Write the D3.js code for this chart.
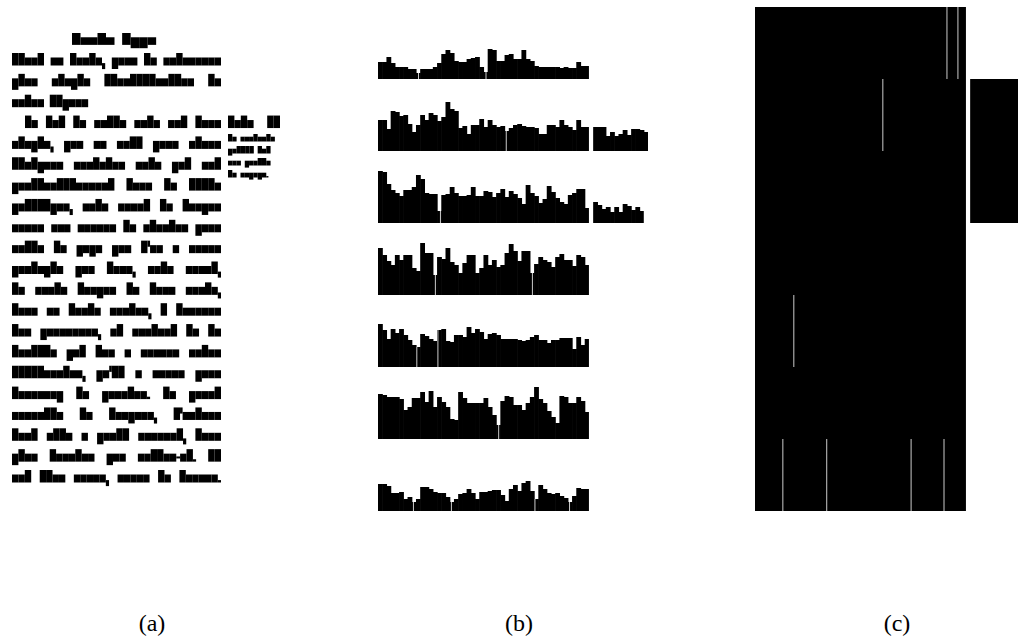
<!DOCTYPE html>
<html>
<head>
<meta charset="utf-8">
<script src="https://cdn.jsdelivr.net/npm/d3@7"></script>
<style>body{margin:0;background:#fff}</style>
</head>
<body>
<svg id="fig"></svg>
<script>
// (a) the page: one string per printed line, drawn as letter boxes
var titleText = "Texte Type";
var bodyLines = [
  "Ainsi un texte, pour le retrouver",
  "plus simple identification de",
  "votre figure",
  "Le but de cette note est donc",
  "simple, que ce soit pour mieux",
  "désigner certains mots qui ont",
  "particulièrement dans la Bible",
  "politique, mais aussi la langue",
  "comme une source de mémoire pour",
  "celle du pays que l'on a connu",
  "partagée par tous, mais aussi,",
  "la seule langue de leur monde,",
  "dans un texte ancien, à travers",
  "les personnes, et surtout de la",
  "famille qui les a connus entre",
  "différentes, qu'il a connu pour",
  "beaucoup de paroles. Un grand",
  "ensemble de langues, d'autres",
  "dont elle a parlé souvent, dans",
  "plus fermées que celles-ci. Il",
  "est bien connu, comme de France."
];
var indentedLines = [3];
var raggedLines = [2];
var marginTitle = "Note 12";
var marginLines = ["Le contexte", "publié ici", "une partie", "le voyage."];

// (b) projection profile of each block, one height per bin
var profiles = [
  [17,17,22,16,12,12,12,10,10,6,10,10,10,12,16,25,29,26,18,17,17,20,21,22,12,7,30,29,18,18,24,25,20,20,29,20,18,13,12,12,12,12,12,11,12,11,11,17,13,13],
  [31,31,22,40,39,35,36,27,19,26,36,31,38,36,30,34,49,42,40,23,25,17,26,26,32,24,31,26,24,25,20,23,26,27,25,24,24,23,17,17,26,26,24,31,26,24,21,31,24,24],
  [52,51,39,33,30,27,33,33,36,48,44,30,29,29,12,28,29,36,30,27,27,28,36,27,27,32,31,26,30,34,26,32,29,25,19,38,30,27,20,24,37,31,25,21,19,28,30,34,34,15],
  [47,40,34,30,40,35,40,40,27,24,52,42,42,20,38,36,47,33,30,22,32,40,40,22,27,40,30,35,28,30,42,51,44,34,44,44,22,31,38,35,33,28,38,41,35,35,29,40,38,30],
  [43,37,28,38,34,38,32,27,22,20,33,31,28,26,37,38,26,25,32,32,30,40,34,38,35,28,33,34,32,28,28,28,28,27,26,27,30,32,27,27,24,27,27,29,29,29,18,30,22,28],
  [45,44,42,42,42,40,29,32,41,41,47,37,48,32,42,37,32,20,19,47,41,36,36,36,36,41,32,24,14,38,43,42,34,34,29,36,42,52,40,36,28,22,16,43,42,36,36,42,38,27],
  [27,27,25,18,18,19,12,14,9,12,24,24,22,19,18,18,14,9,12,17,18,22,18,12,19,19,20,21,21,16,10,22,26,20,28,30,20,12,26,22,18,17,18,15,13,9,15,23,22,22]
];
// margin note profiles, next to rows 1 and 2
var noteRows = [1, 2];
var noteProfiles = [
  [24,24,24,15,19,15,17,21,16,22,22,21,19],
  [21,18,14,16,11,16,11,19,17,13,16,12]
];
// thin white cuts seen inside the profiles (bins)
var profileCuts = [[9.6, 25.6], [30.4], [14.8], [13.6, 36.6], [9.2, 14.2], [28.6], [8.4, 17.4, 37.2, 45.4]];

// (c) cuts inside each block, in bins
var blockCuts = [[45.5, 48.1], [30.3], [], [], [9.2], [], [6.6, 17, 37, 44.8]];

var captions = ["(a)", "(b)", "(c)"];

var W = 1018, H = 639;
var svg = d3.select("#fig").attr("width", W).attr("height", H);

// ---------- (a) ----------
function unitOf(c){
  if (c === "," || c === ".") return 0.5;
  if (c === "'") return 0.4;
  if (c === "-") return 0.6;
  return 1;
}
function kindOf(c){
  if (c === ",") return "comma";
  if (c === ".") return "dot";
  if (c === "'") return "apos";
  if (c === "-") return "dash";
  if (c === "j") return "both";
  if ("gpqyç".includes(c)) return "desc";
  if ("bdfhklti".includes(c) || /[A-Z0-9éèêàùô]/.test(c)) return "asc";
  return "x";
}
function layLine(str, x0, x1, letterW, justify){
  var chars = Array.from(str);
  var u = d3.scaleLinear().domain([0, 1]).range([0, letterW]);
  var units = d3.sum(chars, function(c){ return c === " " ? 0 : unitOf(c); });
  var nSp = chars.filter(function(c){ return c === " "; }).length;
  var spW = (justify && nSp) ? (x1 - x0 - u(units)) / nSp : u(0.9);
  var x = x0, out = [];
  chars.forEach(function(c){
    if (c === " ") { x += spW; return; }
    var w = u(unitOf(c));
    out.push({x: x, w: w, kind: kindOf(c)});
    x += w;
  });
  return out;
}
function metrics(t, s){
  return {top: t, xTop: t + 4.5*s, base: t + 12.5*s, bottom: t + 16*s};
}
function vSpan(kind, m){
  var xh = m.base - m.xTop;
  switch (kind) {
    case "asc": return [m.top, m.base];
    case "desc": return [m.xTop, m.bottom];
    case "both": return [m.top, m.bottom];
    case "comma": return [m.base - 0.3*xh, m.base + 0.45*xh];
    case "dot": return [m.base - 0.3*xh, m.base];
    case "apos": return [m.top, m.xTop + 0.2*xh];
    case "dash": return [m.xTop + 0.35*xh, m.xTop + 0.6*xh];
    default: return [m.xTop, m.base];
  }
}
var pageA = svg.append("g").attr("class", "panel-a");
function drawLine(boxes, m){
  pageA.append("g").selectAll("rect").data(boxes).join("rect")
    .attr("x", function(d){ return d.x; })
    .attr("y", function(d){ return vSpan(d.kind, m)[0]; })
    .attr("width", function(d){ return d.w; })
    .attr("height", function(d){ var s = vSpan(d.kind, m); return s[1] - s[0]; })
    .attr("fill", "#000");
}
var lineY = d3.scaleLinear().domain([0, bodyLines.length - 1]).range([53, 470]);
var textLeft = 12, textRight = 221, indent = 13;

drawLine(layLine(titleText, 72, 157, 8.5, false), metrics(33, 0.95));
bodyLines.forEach(function(s, i){
  var x0 = textLeft + (indentedLines.includes(i) ? indent : 0);
  drawLine(layLine(s, x0, textRight, 6.4, !raggedLines.includes(i)), metrics(lineY(i), 1));
});
drawLine(layLine(marginTitle, 228, 280, 6.4, true), metrics(lineY(3), 1));
var noteY = d3.scaleLinear().domain([0, marginLines.length - 1]).range([134, 170]);
marginLines.forEach(function(s, i){
  drawLine(layLine(s, 228, 280, 4.3, false), metrics(noteY(i), 0.6));
});

// ---------- (b) ----------
var nBins = 64;
var rowY = d3.scaleBand().domain(d3.range(profiles.length)).range([7, 511]);
var binB = d3.scaleBand().domain(d3.range(nBins)).range([378, 648]);
var cutB = d3.scaleLinear().domain([0, nBins]).range([378, 648]);
var hScale = d3.scaleLinear().domain([0, 72]).range([0, rowY.bandwidth()]);
var noteStart = 51;
var overlap = 0.6; // neighbouring columns touch, no seams

var panelB = svg.append("g").attr("class", "panel-b");
profiles.forEach(function(vals, r){
  var bars = vals.map(function(v, k){ return {bin: k, v: v, last: k === vals.length - 1}; });
  var ni = noteRows.indexOf(r);
  if (ni >= 0) noteProfiles[ni].forEach(function(v, k){
    bars.push({bin: noteStart + k, v: v, last: k === noteProfiles[ni].length - 1});
  });
  var base = rowY(r) + rowY.bandwidth();
  panelB.append("g").selectAll("rect").data(bars).join("rect")
    .attr("x", function(d){ return binB(d.bin); })
    .attr("width", function(d){ return binB.bandwidth() + (d.last ? 0 : overlap); })
    .attr("y", function(d){ return base - hScale(d.v); })
    .attr("height", function(d){ return hScale(d.v); })
    .attr("fill", "#000");
  panelB.append("g").selectAll("line").data(profileCuts[r]).join("line")
    .attr("x1", function(b){ return cutB(b); })
    .attr("x2", function(b){ return cutB(b); })
    .attr("y1", function(b){ return base - hScale(vals[Math.floor(b)]) ; })
    .attr("y2", base)
    .attr("stroke", "#fff")
    .attr("stroke-width", 0.8);
});

// ---------- (c) ----------
var binC = d3.scaleBand().domain(d3.range(nBins)).range([755, 1025]);
var cutX = d3.scaleLinear().domain([0, nBins]).range([755, 1025]);
var mainBins = profiles[0].length;
var panelC = svg.append("g").attr("class", "panel-c");
panelC.selectAll("rect.block").data(profiles.map(function(v, r){ return r; })).join("rect")
  .attr("class", "block")
  .attr("x", binC(0))
  .attr("width", binC(mainBins - 1) + binC.bandwidth() - binC(0))
  .attr("y", function(r){ return rowY(r); })
  .attr("height", rowY.bandwidth())
  .attr("fill", "#000");
// the margin note forms one block over its rows
panelC.append("rect")
  .attr("x", binC(noteStart))
  .attr("width", binC(nBins - 1) + binC.bandwidth() - binC(noteStart))
  .attr("y", rowY(d3.min(noteRows)))
  .attr("height", rowY(d3.max(noteRows)) + rowY.bandwidth() - rowY(d3.min(noteRows)))
  .attr("fill", "#000");
blockCuts.forEach(function(cuts, r){
  panelC.append("g").selectAll("line").data(cuts).join("line")
    .attr("x1", function(b){ return cutX(b); })
    .attr("x2", function(b){ return cutX(b); })
    .attr("y1", rowY(r))
    .attr("y2", rowY(r) + rowY.bandwidth())
    .attr("stroke", "#fff")
    .attr("stroke-width", 0.8);
});

// ---------- captions ----------
var capPos = {"(a)": 152, "(b)": 519, "(c)": 897};
svg.append("g").selectAll("text").data(captions).join("text")
  .attr("x", function(d){ return capPos[d]; })
  .attr("y", 631)
  .attr("text-anchor", "middle")
  .attr("font-family", "'Liberation Serif', 'DejaVu Serif', serif")
  .attr("font-size", 24)
  .attr("fill", "#000")
  .text(function(d){ return d; });
</script>
</body>
</html>
